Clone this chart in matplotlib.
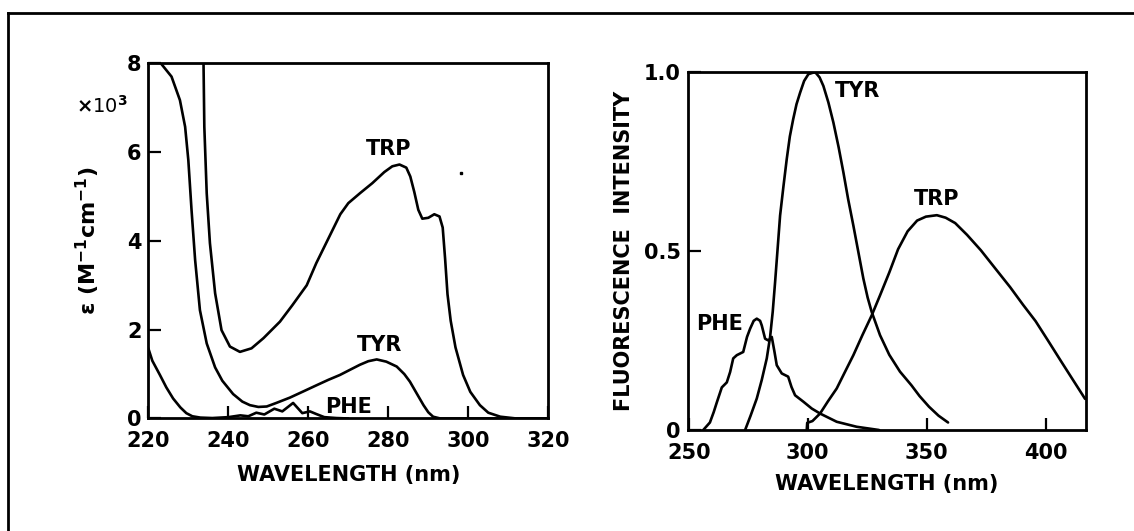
import numpy as np
import matplotlib
matplotlib.use("Agg")
import matplotlib.pyplot as plt
from matplotlib.lines import Line2D

# ---- absorption (left panel), epsilon in units of 10^3 M-1 cm-1 ----
trp_abs_nm = [233.8, 234.0, 234.6, 235.4, 236.7, 238.3, 240.4, 242.9, 245.8, 248.8,
              252.9, 256.0, 259.6, 262.0, 265.0, 268.0, 270.0, 273.0, 276.0, 279.0,
              281.0, 282.8, 284.5, 285.5, 286.5, 287.5, 288.5, 290.0, 291.5, 292.8,
              293.6, 294.2, 294.8, 295.6, 296.8, 298.7, 300.5, 302.9, 305.0, 308.0,
              312.0, 320.0]
trp_abs_eps = [8.0, 6.57, 5.07, 3.95, 2.82, 1.99, 1.62, 1.50, 1.58, 1.81,
               2.18, 2.55, 3.0, 3.5, 4.05, 4.6, 4.85, 5.08, 5.3, 5.55,
               5.68, 5.72, 5.65, 5.45, 5.1, 4.7, 4.5, 4.52, 4.6, 4.55,
               4.3, 3.6, 2.8, 2.2, 1.6, 0.98, 0.6, 0.3, 0.13, 0.04,
               0.0, 0.0]

tyr_abs_nm = [223.3, 225.8, 227.9, 229.2, 230.0, 230.8, 231.7, 232.9, 234.6, 236.7,
              238.5, 241.2, 243.5, 245.4, 247.5, 249.6, 252.0, 255.4, 259.0, 262.1,
              265.0, 267.9, 270.5, 272.9, 275.0, 277.1, 279.5, 282.1, 284.0, 285.4,
              287.0, 288.8, 290.0, 291.2, 293.0, 320.0]
tyr_abs_eps = [7.98, 7.7, 7.17, 6.57, 5.82, 4.7, 3.57, 2.44, 1.69, 1.15,
               0.85, 0.55, 0.38, 0.30, 0.26, 0.27, 0.35, 0.47, 0.62, 0.75,
               0.87, 0.98, 1.10, 1.21, 1.29, 1.33, 1.28, 1.17, 1.0, 0.83,
               0.58, 0.30, 0.14, 0.04, 0.0, 0.0]

phe_abs_nm = [220.0, 221.0, 222.9, 224.5, 226.2, 228.0, 229.5, 231.0, 233.0, 236.0,
              240.0, 243.0, 245.0, 247.0, 249.0, 251.5, 253.5, 256.2, 258.5, 260.4,
              262.0, 264.0, 267.0, 270.0]
phe_abs_eps = [1.58, 1.3, 0.98, 0.7, 0.45, 0.25, 0.12, 0.05, 0.02, 0.01,
               0.03, 0.07, 0.05, 0.13, 0.09, 0.22, 0.16, 0.35, 0.12, 0.16,
               0.10, 0.03, 0.01, 0.0]

speck_nm = [298.3]
speck_eps = [5.52]

# ---- fluorescence emission (right panel), normalised ----
tyr_em_nm = [273.7, 276.0, 278.6, 280.7, 282.8, 284.2, 285.3, 286.3, 287.4, 288.4,
             289.8, 291.2, 292.5, 293.9, 295.3, 296.8, 298.5, 300.3, 303.1, 305.0,
             306.6, 308.7, 310.8, 313.0, 315.0, 317.0, 319.2, 321.3, 323.4, 325.2,
             326.9, 330.4, 334.3, 338.8, 343.6, 347.0, 351.0, 355.0, 359.0]
tyr_em_int = [0.0, 0.04, 0.088, 0.14, 0.2, 0.26, 0.33, 0.413, 0.51, 0.599,
              0.68, 0.757, 0.82, 0.868, 0.91, 0.942, 0.975, 0.994, 1.0, 0.985,
              0.961, 0.915, 0.859, 0.79, 0.72, 0.645, 0.571, 0.497, 0.423, 0.37,
              0.33, 0.265, 0.21, 0.163, 0.125, 0.095, 0.065, 0.04, 0.021]

trp_em_nm = [299.6, 299.8, 302.0, 305.2, 308.5, 312.2, 315.5, 319.2, 323.0, 326.9,
             330.4, 334.3, 338.0, 342.0, 346.0, 349.7, 354.3, 358.0, 362.0, 367.0,
             372.8, 379.0, 385.1, 390.5, 395.8, 401.0, 406.6, 411.5, 416.6]
trp_em_int = [0.0, 0.02, 0.025, 0.046, 0.08, 0.116, 0.16, 0.209, 0.265, 0.32,
              0.376, 0.44, 0.505, 0.555, 0.585, 0.596, 0.6, 0.593, 0.578, 0.545,
              0.502, 0.45, 0.399, 0.35, 0.304, 0.25, 0.191, 0.14, 0.087]

phe_em_nm = [256.1, 258.9, 260.5, 261.8, 263.9, 266.0, 267.4, 268.7, 270.2, 272.9,
             274.5, 275.8, 277.3, 278.6, 280.0, 280.7, 282.1, 283.5, 284.9, 286.0,
             287.0, 289.1, 291.8, 293.2, 294.7, 298.2, 301.7, 305.2, 312.2, 320.6,
             330.0]
phe_em_int = [0.0, 0.021, 0.05, 0.077, 0.119, 0.133, 0.162, 0.2, 0.209, 0.218,
              0.26, 0.283, 0.305, 0.311, 0.305, 0.292, 0.255, 0.25, 0.26, 0.22,
              0.181, 0.158, 0.149, 0.12, 0.097, 0.079, 0.06, 0.046, 0.023, 0.009,
              0.0]

plt.rcParams["font.family"] = ["DejaVu Sans"]
plt.rcParams["font.weight"] = "bold"
plt.rcParams["axes.labelweight"] = "bold"
plt.rcParams["mathtext.default"] = "bf"
LW = 1.9
FS = 15

fig = plt.figure(figsize=(11.34, 5.31), dpi=100)

# outer frame (only top and left edges are visible)
fig.add_artist(Line2D([8 / 1134, 1.0], [1 - 13 / 531, 1 - 13 / 531], color="black", lw=2.0))
fig.add_artist(Line2D([8 / 1134, 8 / 1134], [0.0, 1 - 13 / 531], color="black", lw=2.0))


def style_axes(ax):
    for sp in ax.spines.values():
        sp.set_linewidth(2.0)
    ax.tick_params(direction="in", length=9, width=1.6, labelsize=FS)
    ax.tick_params(axis="x", pad=9)
    ax.tick_params(axis="y", pad=5)


def draw(ax, x, y):
    ax.plot(x, y, color="black", lw=LW, solid_joinstyle="round", solid_capstyle="round")


# left: absorption
ax1 = fig.add_axes([0.1308, 0.2119, 0.3527, 0.6689])
draw(ax1, trp_abs_nm, trp_abs_eps)
draw(ax1, tyr_abs_nm, tyr_abs_eps)
draw(ax1, phe_abs_nm, phe_abs_eps)
ax1.plot(speck_nm, speck_eps, "s", color="black", ms=2)
ax1.set_xlim(220, 320)
ax1.set_ylim(0, 8)
ax1.set_xticks([220, 240, 260, 280, 300, 320])
ax1.set_yticks([0, 2, 4, 6, 8])
style_axes(ax1)
ax1.set_xlabel("WAVELENGTH (nm)", fontsize=FS, labelpad=10)
ax1.set_ylabel(r"$\epsilon$ (M$^{-1}$cm$^{-1}$)", fontsize=FS + 1, labelpad=18)
ax1.text(-0.05, 0.88, r"$\times$10$^3$", transform=ax1.transAxes, fontsize=FS - 1,
         ha="right", va="center", fontweight="normal")
ax1.text(280, 6.07, "TRP", fontsize=FS, ha="center", va="center")
ax1.text(277.7, 1.65, "TYR", fontsize=FS, ha="center", va="center")
ax1.text(264.3, 0.26, "PHE", fontsize=FS, ha="left", va="center")

# right: fluorescence
ax2 = fig.add_axes([0.6063, 0.1902, 0.3514, 0.6742])
draw(ax2, tyr_em_nm, tyr_em_int)
draw(ax2, trp_em_nm, trp_em_int)
draw(ax2, phe_em_nm, phe_em_int)
ax2.set_xlim(249.5, 417)
ax2.set_ylim(0, 1.0)
ax2.set_xticks([250, 300, 350, 400])
ax2.set_yticks([0, 0.5, 1.0])
ax2.set_yticklabels(["0", "0.5", "1.0"])
style_axes(ax2)
ax2.set_xlabel("WAVELENGTH (nm)", fontsize=FS, labelpad=8)
ax2.set_ylabel("FLUORESCENCE  INTENSITY", fontsize=FS, labelpad=7)
ax2.text(311.3, 0.946, "TYR", fontsize=FS, ha="left", va="center")
ax2.text(354.3, 0.644, "TRP", fontsize=FS, ha="center", va="center")
ax2.text(272.8, 0.295, "PHE", fontsize=FS, ha="right", va="center")

fig.savefig("out.png", dpi=100)
